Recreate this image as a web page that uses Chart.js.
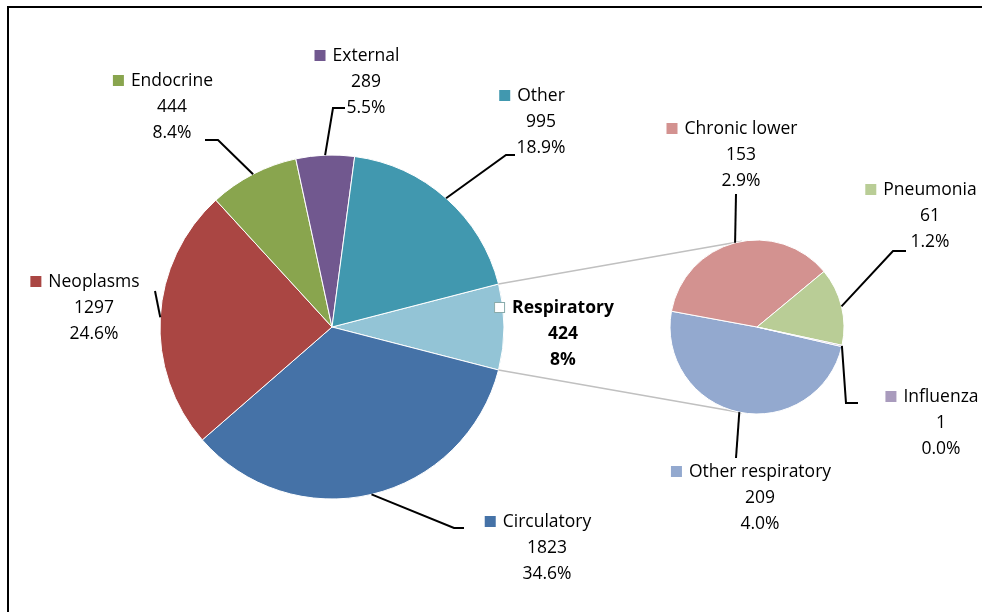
<!DOCTYPE html>
<html lang="en">
<head>
<meta charset="UTF-8">
<title>Deaths by cause</title>
<style>
  body { margin: 0; background: #fff; }
  #wrap { position: relative; width: 982px; height: 612px; overflow: hidden; background: #fff; }
  #frame { position: absolute; left: 7px; top: 6px; width: 1000px; height: 700px; border: 2px solid #000; }
  canvas { position: absolute; left: 0; top: 0; }
</style>
</head>
<body>
<div id="wrap">
  <div id="frame"></div>
  <canvas id="mainPie" width="982" height="612"></canvas>
  <canvas id="subPie" width="982" height="612"></canvas>
</div>
<script src="https://cdn.jsdelivr.net/npm/chart.js"></script>
<script>
// main pie, clockwise starting from the split-off slice
const mainLabels = ['Respiratory', 'Circulatory', 'Neoplasms', 'Endocrine', 'External', 'Other'];
const mainValues = [424, 1823, 1297, 444, 289, 995];
// second pie (breakdown of Respiratory)
const subLabels = ['Other respiratory', 'Chronic lower', 'Pneumonia', 'Influenza'];
const subValues = [209, 153, 61, 1];

const mainColors = ['#93C4D6', '#4572A7', '#AA4643', '#89A54E', '#71588F', '#4198AF'];
const subColors = ['#93A9CF', '#D39290', '#B9CD96', '#A99BBD'];

const total = mainValues.reduce((a, b) => a + b, 0);
const FONT = '17.5px "Open Sans", sans-serif';
const BOLD = 'bold 17.5px "Open Sans", sans-serif';
const LINE = 26;

// label block centre x, first line y, and leader line elbow points
const labelLayout = {
  'Respiratory': { x: 563, y: 308 },
  'Circulatory': { x: 547, y: 522, leader: [[454, 528], [464, 528]] },
  'Neoplasms': { x: 94, y: 282, leader: [[155, 291]] },
  'Endocrine': { x: 172, y: 81, leader: [[218, 140], [205, 140]] },
  'External': { x: 366, y: 56, leader: [[333, 108], [345, 108]] },
  'Other': { x: 541, y: 96, leader: [[506, 155], [515, 155]] },
  'Other respiratory': { x: 760, y: 472, leader: [[736, 458]] },
  'Chronic lower': { x: 741, y: 129, leader: [[736, 194]] },
  'Pneumonia': { x: 930, y: 190, leader: [[893, 251], [906, 251]] },
  'Influenza': { x: 941, y: 397, leader: [[846, 403], [858, 403]] }
};

function drawLabels(chart, labels, values, colors) {
  const ctx = chart.ctx;
  const arcs = chart.getDatasetMeta(0).data;
  ctx.save();
  arcs.forEach((arc, i) => {
    const L = labelLayout[labels[i]];
    const p = arc.getProps(['x', 'y', 'startAngle', 'endAngle', 'outerRadius'], true);
    const mid = (p.startAngle + p.endAngle) / 2;
    if (L.leader) {
      ctx.beginPath();
      ctx.moveTo(p.x + Math.cos(mid) * p.outerRadius, p.y + Math.sin(mid) * p.outerRadius);
      L.leader.forEach(pt => ctx.lineTo(pt[0], pt[1]));
      ctx.strokeStyle = '#000';
      ctx.lineWidth = 2;
      ctx.stroke();
    }
    const isAgg = labels[i] === 'Respiratory';
    const pct = values[i] / total * 100;
    const lines = [labels[i], String(values[i]), (isAgg ? pct.toFixed(0) : pct.toFixed(1)) + '%'];
    ctx.font = isAgg ? BOLD : FONT;
    ctx.fillStyle = '#000';
    ctx.textAlign = 'center';
    ctx.textBaseline = 'middle';
    lines.forEach((t, k) => ctx.fillText(t, L.x, L.y + k * LINE));
    // legend key
    const w = ctx.measureText(lines[0]).width;
    const kx = L.x - w / 2 - 18;
    if (isAgg) {
      ctx.fillStyle = '#fff';
      ctx.fillRect(kx, L.y - 6, 11, 11);
      ctx.strokeStyle = '#8aa';
      ctx.lineWidth = 1;
      ctx.strokeRect(kx + 0.5, L.y - 5.5, 10, 10);
    } else {
      ctx.fillStyle = colors[i];
      ctx.fillRect(kx, L.y - 6, 11, 11);
    }
  });
  ctx.restore();
}

const baseOptions = {
  responsive: false,
  animation: false,
  events: [],
  plugins: { legend: { display: false }, tooltip: { enabled: false } }
};

const mainChart = new Chart(document.getElementById('mainPie'), {
  type: 'pie',
  data: {
    labels: mainLabels,
    datasets: [{ data: mainValues, backgroundColor: mainColors, borderColor: '#fff', borderWidth: 1, hoverOffset: 0 }]
  },
  options: Object.assign({}, baseOptions, {
    rotation: 90 - mainValues[0] / total * 180,
    radius: 172,
    layout: { padding: { left: 160, right: 478, top: 155, bottom: 113 } }
  }),
  plugins: [{
    id: 'mainLabels',
    afterDatasetsDraw(chart) { drawLabels(chart, mainLabels, mainValues, mainColors); }
  }]
});

const subChart = new Chart(document.getElementById('subPie'), {
  type: 'pie',
  data: {
    labels: subLabels,
    datasets: [{ data: subValues, backgroundColor: subColors, borderColor: '#fff', borderWidth: 1, hoverOffset: 0 }]
  },
  options: Object.assign({}, baseOptions, {
    rotation: 103,
    radius: 87,
    layout: { padding: { left: 670, right: 138, top: 240, bottom: 198 } }
  }),
  plugins: [{
    id: 'connectors',
    beforeDatasetsDraw(chart) {
      const agg = mainChart.getDatasetMeta(0).data[0].getProps(['x', 'y', 'startAngle', 'endAngle', 'outerRadius'], true);
      const sub = chart.getDatasetMeta(0).data[0].getProps(['x', 'y', 'outerRadius'], true);
      const ctx = chart.ctx;
      ctx.save();
      ctx.strokeStyle = '#c0c0c0';
      ctx.lineWidth = 1.5;
      [[agg.startAngle, -1], [agg.endAngle, 1]].forEach(([a, side]) => {
        const px = agg.x + Math.cos(a) * agg.outerRadius;
        const py = agg.y + Math.sin(a) * agg.outerRadius;
        const d = Math.hypot(px - sub.x, py - sub.y);
        const th = Math.atan2(py - sub.y, px - sub.x);
        const t = th - side * Math.acos(sub.outerRadius / d);
        ctx.beginPath();
        ctx.moveTo(px, py);
        ctx.lineTo(sub.x + Math.cos(t) * sub.outerRadius, sub.y + Math.sin(t) * sub.outerRadius);
        ctx.stroke();
      });
      ctx.restore();
    },
    afterDatasetsDraw(chart) { drawLabels(chart, subLabels, subValues, subColors); }
  }]
});
</script>
</body>
</html>
